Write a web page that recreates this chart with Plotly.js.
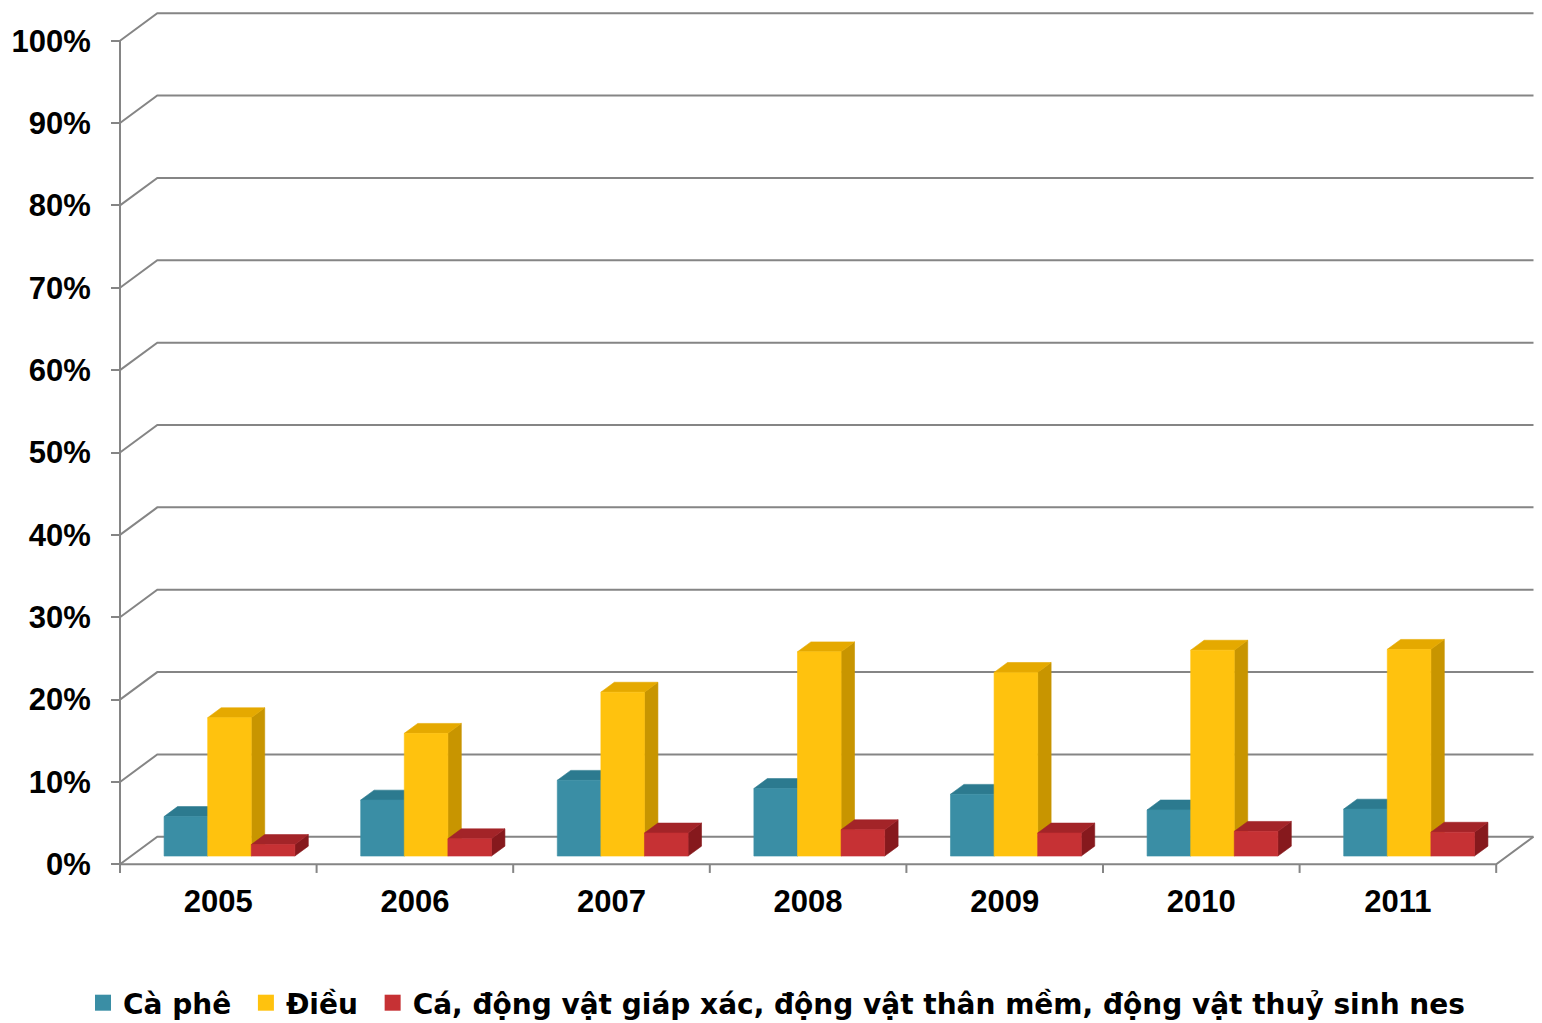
<!DOCTYPE html>
<html>
<head>
<meta charset="utf-8">
<script src="https://cdn.plot.ly/plotly-3.0.1.min.js"></script>
<style>
  html, body { margin: 0; padding: 0; background: #ffffff; }
  #chart { width: 1542px; height: 1023px; }
</style>
</head>
<body>
<div id="chart"></div>
<script>
// ---- data ----
const years = ['2005', '2006', '2007', '2008', '2009', '2010', '2011'];
const caPhe = [4.8, 6.8, 9.2, 8.2, 7.5, 5.6, 5.7];
const dieu = [16.8, 14.9, 19.9, 24.8, 22.3, 25.0, 25.1];
const thuySan = [1.4, 2.1, 2.8, 3.2, 2.8, 3.0, 2.9];
const seriesNames = ['Cà phê', 'Điều', 'Cá, động vật giáp xác, động vật thân mềm, động vật thuỷ sinh nes'];
const yTickVals = [0, 10, 20, 30, 40, 50, 60, 70, 80, 90, 100];
const yTickText = ['0%', '10%', '20%', '30%', '40%', '50%', '60%', '70%', '80%', '90%', '100%'];

// ---- styling ----
const palette = [
  { front: '#3a8ea5', top: '#2c7a8f', side: '#24687a' },
  { front: '#ffc20e', top: '#e5a900', side: '#c89500' },
  { front: '#c63134', top: '#a32428', side: '#86191d' }
];
const gridColor = '#858585';
const labelFont = { family: 'Liberation Sans, Arial, sans-serif', size: 31, color: '#000000', weight: 'bold' };
const NBSP = '\u00a0';

// ---- geometry of the oblique 3D frame ----
const W = 1542, H = 1023;
const M = { l: 100, r: 2, t: 8, b: 147, autoexpand: false };
const plotW = W - M.l - M.r, plotH = H - M.t - M.b;
const CAT_PX = 196.6;        // pixels per category
const PCT_PX = 8.236;        // pixels per percent
const FRONT_X_PX = 120;      // front left edge of the floor
const ZERO_Y_PX = 864.3;     // front 0% line
const X0 = -0.5 - (FRONT_X_PX - M.l) / CAT_PX;
const xRange = [X0, X0 + plotW / CAT_PX];
const yRange = [-(M.t + plotH - ZERO_Y_PX) / PCT_PX, (ZERO_Y_PX - M.t) / PCT_PX];

const DX = 37.3 / CAT_PX;    // full depth, x shift in category units
const DY = 27.5 / PCT_PX;    // full depth, y shift in percent units
const nCat = years.length;
const xLeft = -0.5, xRight = nCat - 0.5;

// bars occupy a slice of the depth
const F0 = 0.30, FD = 0.36;
const dx0 = F0 * DX, dy0 = F0 * DY;
const dx1 = (F0 + FD) * DX, dy1 = (F0 + FD) * DY;
const BAR_W = 43.6 / CAT_PX;

const traces = [];

// back wall gridlines with their diagonal on the left wall
const gx = [], gy = [];
yTickVals.forEach(v => {
  gx.push(xLeft, xLeft + DX, xRight + DX, null);
  gy.push(v, v + DY, v + DY, null);
});
// front floor edge and right floor edge
gx.push(xLeft, xRight, xRight + DX, null);
gy.push(0, 0, DY, null);
// front vertical axis line
gx.push(xLeft, xLeft, null);
gy.push(-1.05, 100, null);
// category boundary ticks under the floor
for (let k = 0; k <= nCat; k++) {
  gx.push(xLeft + k, xLeft + k, null);
  gy.push(0, -1.05, null);
}
traces.push({
  type: 'scatter', mode: 'lines', x: gx, y: gy,
  line: { color: gridColor, width: 2 }, hoverinfo: 'skip', showlegend: false
});

// bars: side, top, then front face for each series, left to right
const seriesValues = [caPhe, dieu, thuySan];
seriesValues.forEach((vals, s) => {
  const sx = [], sy = [], tx = [], ty = [], fx = [], fy = [];
  vals.forEach((v, i) => {
    const xl = i - 1.5 * BAR_W + s * BAR_W;
    const xr = xl + BAR_W;
    // right side face
    sx.push(xr + dx0, xr + dx1, xr + dx1, xr + dx0, xr + dx0, null);
    sy.push(dy0, dy1, v + dy1, v + dy0, dy0, null);
    // top face
    tx.push(xl + dx0, xr + dx0, xr + dx1, xl + dx1, xl + dx0, null);
    ty.push(v + dy0, v + dy0, v + dy1, v + dy1, v + dy0, null);
    // front face
    fx.push(xl + dx0, xr + dx0, xr + dx0, xl + dx0, xl + dx0, null);
    fy.push(dy0, dy0, v + dy0, v + dy0, dy0, null);
  });
  const c = palette[s];
  traces.push({ type: 'scatter', mode: 'lines', x: sx, y: sy, fill: 'toself', fillcolor: c.side,
    line: { color: c.side, width: 0.6 }, hoverinfo: 'skip', showlegend: false });
  traces.push({ type: 'scatter', mode: 'lines', x: tx, y: ty, fill: 'toself', fillcolor: c.top,
    line: { color: c.top, width: 0.6 }, hoverinfo: 'skip', showlegend: false });
  traces.push({ type: 'scatter', mode: 'lines', x: fx, y: fy, fill: 'toself', fillcolor: c.front,
    line: { color: c.front, width: 0.6 }, name: seriesNames[s], showlegend: false,
    text: vals.map(v => v + '%'), hoverinfo: 'name+text' });
});

// legend entries (a trailing no-break space widens the gap between entries)
seriesNames.forEach((name, s) => {
  const label = s < seriesNames.length - 1 ? name + NBSP : name;
  traces.push({ type: 'scatter', mode: 'markers', x: [null], y: [null], name: label,
    marker: { symbol: 'square', size: 17, color: palette[s].front }, hoverinfo: 'skip' });
});

const layout = {
  width: W, height: H,
  margin: M,
  paper_bgcolor: '#ffffff', plot_bgcolor: '#ffffff',
  showlegend: true,
  legend: {
    orientation: 'h', x: (83 - M.l) / plotW, xanchor: 'left',
    y: (M.t + plotH - 1003) / plotH, yanchor: 'middle',
    font: { family: 'DejaVu Sans, sans-serif', size: 28, color: '#000000', weight: 'bold' },
    itemwidth: 30, bgcolor: 'rgba(0,0,0,0)'
  },
  xaxis: {
    range: xRange, showgrid: false, zeroline: false, showline: false,
    tickmode: 'array', tickvals: years.map((_, i) => i), ticktext: years,
    ticks: '', tickfont: labelFont, ticklabelstandoff: 4, fixedrange: true
  },
  yaxis: {
    range: yRange, anchor: 'free', position: (FRONT_X_PX - M.l) / plotW,
    showgrid: false, zeroline: false, showline: false,
    tickmode: 'array', tickvals: yTickVals, ticktext: yTickText,
    ticks: 'outside', ticklen: 9, tickwidth: 2, tickcolor: gridColor,
    tickfont: labelFont, ticklabelstandoff: 14, fixedrange: true
  }
};

Plotly.newPlot('chart', traces, layout, { displayModeBar: false, staticPlot: true });
</script>
</body>
</html>
